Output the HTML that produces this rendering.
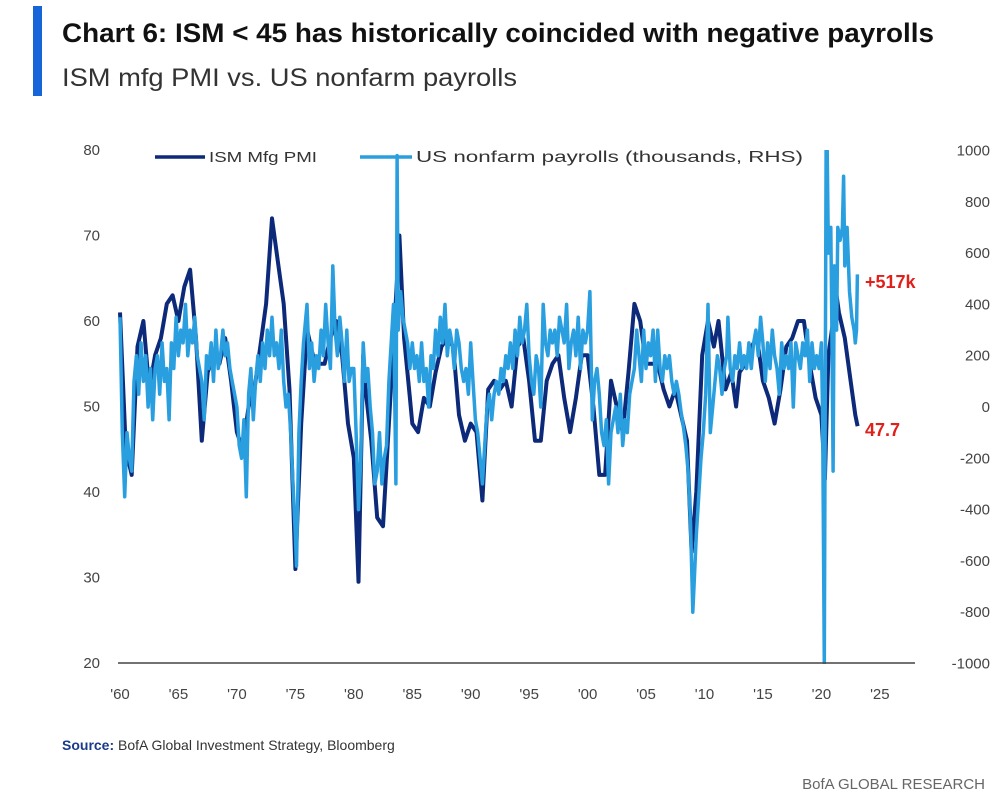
<!DOCTYPE html>
<html><head><meta charset="utf-8"><style>
body{margin:0;background:#fff;}
svg{display:block;font-family:"Liberation Sans",sans-serif;}
</style></head><body>
<svg id="chart" width="1006" height="808" viewBox="0 0 1006 808">
<rect x="33" y="6" width="9" height="90" fill="#1565d8"/>
<text x="62" y="42" font-size="27" font-weight="bold" fill="#111" textLength="872" lengthAdjust="spacingAndGlyphs">Chart 6: ISM &lt; 45 has historically coincided with negative payrolls</text>
<text x="62" y="86" font-size="25" fill="#333" textLength="455" lengthAdjust="spacingAndGlyphs">ISM mfg PMI vs. US nonfarm payrolls</text>
<g id="axes"></g>
<defs><clipPath id="plot"><rect x="110" y="150" width="800" height="514"/></clipPath></defs>
<g id="series" clip-path="url(#plot)"></g>
<line x1="118" y1="663" x2="915" y2="663" stroke="#444" stroke-width="1.5"/>
<g>
<line x1="155" y1="157" x2="205" y2="157" stroke="#0d2a7a" stroke-width="3.5"/>
<text x="209" y="162" font-size="15" fill="#333" textLength="108" lengthAdjust="spacingAndGlyphs">ISM Mfg PMI</text>
<line x1="360" y1="157" x2="412" y2="157" stroke="#2a9fe0" stroke-width="3.5"/>
<text x="416" y="162" font-size="16" fill="#333" textLength="387" lengthAdjust="spacingAndGlyphs">US nonfarm payrolls (thousands, RHS)</text>
</g>
<text x="865" y="288" font-size="18" font-weight="bold" fill="#e0201b">+517k</text>
<text x="865" y="436" font-size="18" font-weight="bold" fill="#e0201b">47.7</text>
<text x="62" y="750" font-size="14" fill="#333"><tspan font-weight="bold" fill="#1a3a8a">Source:</tspan> BofA Global Investment Strategy, Bloomberg</text>
<text x="985" y="789" font-size="15" fill="#666" text-anchor="end">BofA GLOBAL RESEARCH</text>
</svg>
<script>
const leftTicks=[80,70,60,50,40,30,20];
const rightTicks=[1000,800,600,400,200,0,-200,-400,-600,-800,-1000];
const xTickYears=[1960,1965,1970,1975,1980,1985,1990,1995,2000,2005,2010,2015,2020,2025];
const xTickLabels=["'60","'65","'70","'75","'80","'85","'90","'95","'00","'05","'10","'15","'20","'25"];
const ismYears=[1960,1960.5,1961,1961.5,1962,1962.5,1963,1963.5,1964,1964.5,1965,1965.5,1966,1966.5,1967,1967.5,1968,1968.5,1969,1969.5,1970,1970.5,1971,1971.5,1972,1972.5,1973,1973.5,1974,1974.5,1975,1975.5,1976,1976.5,1977,1977.5,1978,1978.5,1979,1979.5,1980,1980.4,1980.8,1981,1981.5,1982,1982.5,1983,1983.5,1983.9,1984.3,1984.8,1985,1985.5,1986,1986.5,1987,1987.5,1988,1988.5,1989,1989.5,1990,1990.5,1991,1991.5,1992,1992.5,1993,1993.5,1994,1994.5,1995,1995.5,1996,1996.5,1997,1997.5,1998,1998.5,1999,1999.5,2000,2000.5,2001,2001.5,2002,2002.5,2003,2003.5,2004,2004.5,2005,2005.5,2006,2006.5,2007,2007.5,2008,2008.5,2008.9,2009.3,2009.8,2010.3,2010.8,2011.2,2011.8,2012.3,2012.7,2013,2013.5,2014,2014.5,2015,2015.5,2016,2016.5,2017,2017.5,2018,2018.5,2019,2019.5,2020,2020.3,2020.6,2021,2021.2,2021.5,2022,2022.5,2022.9,2023.1];
const ismValues=[61,45,42,57,60,52,56,58,62,63,60,64,66,58,46,54,56,55,58,53,47,45,50,52,57,62,72,67,62,52,31,48,59,56,55,55,58,60,56,48,44,29.5,56,52,46,37,36,48,60,70,58,51,48,47,51,50,54,57,58,57,49,46,48,47,39,52,53,52,53,50,57,58,53,46,46,53,55,56,51,47,51,56,56,50,42,42,53,50,47,54,62,60,55,55,55,52,50,52,49,46,33,40,56,60,57,60,52,54,50,54,55,57,58,53,51,48,52,57,58,60,60,55,51,49,41.5,56,60,64,61,58,53,49,47.7];
const nfpYears=[1960.0,1960.2,1960.4,1960.6,1960.8,1961.0,1961.2,1961.4,1961.6,1961.8,1962.0,1962.2,1962.4,1962.6,1962.8,1963.0,1963.2,1963.4,1963.6,1963.8,1964.0,1964.2,1964.4,1964.6,1964.8,1965.0,1965.2,1965.4,1965.6,1965.8,1966.0,1966.2,1966.4,1966.6,1966.8,1967.0,1967.2,1967.4,1967.6,1967.8,1968.0,1968.2,1968.4,1968.6,1968.8,1969.0,1969.2,1969.4,1969.6,1969.8,1970.0,1970.2,1970.4,1970.6,1970.8,1971.0,1971.2,1971.4,1971.6,1971.8,1972.0,1972.2,1972.4,1972.6,1972.8,1973.0,1973.2,1973.4,1973.6,1973.8,1974.0,1974.2,1974.4,1974.6,1974.8,1975.0,1975.1,1975.3,1975.5,1975.7,1976.0,1976.2,1976.4,1976.6,1976.8,1977.0,1977.2,1977.4,1977.6,1977.8,1978.0,1978.2,1978.4,1978.6,1978.8,1979.0,1979.2,1979.4,1979.6,1979.8,1980.0,1980.2,1980.4,1980.6,1980.8,1981.0,1981.2,1981.4,1981.6,1981.8,1982.0,1982.2,1982.4,1982.6,1982.8,1983.0,1983.2,1983.4,1983.6,1983.7,1983.8,1984.0,1984.2,1984.4,1984.6,1984.8,1985.0,1985.2,1985.4,1985.6,1985.8,1986.0,1986.2,1986.4,1986.6,1986.8,1987.0,1987.2,1987.4,1987.6,1987.8,1988.0,1988.2,1988.4,1988.6,1988.8,1989.0,1989.2,1989.4,1989.6,1989.8,1990.0,1990.2,1990.4,1990.6,1990.8,1991.0,1991.2,1991.4,1991.6,1991.8,1992.0,1992.2,1992.4,1992.6,1992.8,1993.0,1993.2,1993.4,1993.6,1993.8,1994.0,1994.2,1994.4,1994.6,1994.8,1995.0,1995.2,1995.4,1995.6,1995.8,1996.0,1996.2,1996.4,1996.6,1996.8,1997.0,1997.2,1997.4,1997.6,1997.8,1998.0,1998.2,1998.4,1998.6,1998.8,1999.0,1999.2,1999.4,1999.6,1999.8,2000.0,2000.2,2000.4,2000.6,2000.8,2001.0,2001.2,2001.4,2001.6,2001.8,2002.0,2002.2,2002.4,2002.6,2002.8,2003.0,2003.2,2003.4,2003.6,2003.8,2004.0,2004.2,2004.4,2004.6,2004.8,2005.0,2005.2,2005.4,2005.6,2005.8,2006.0,2006.2,2006.4,2006.6,2006.8,2007.0,2007.2,2007.4,2007.6,2007.8,2008.0,2008.2,2008.4,2008.6,2008.8,2009.0,2009.1,2009.3,2009.5,2009.7,2009.9,2010.1,2010.3,2010.5,2010.7,2010.9,2011.1,2011.3,2011.5,2011.7,2011.9,2012.0,2012.2,2012.4,2012.6,2012.8,2013.0,2013.2,2013.4,2013.6,2013.8,2014.0,2014.2,2014.4,2014.6,2014.8,2015.0,2015.2,2015.4,2015.6,2015.8,2016.0,2016.2,2016.4,2016.6,2016.8,2017.0,2017.2,2017.4,2017.6,2017.8,2018.0,2018.2,2018.4,2018.6,2018.8,2019.0,2019.2,2019.4,2019.6,2019.8,2020.0,2020.1,2020.25,2020.4,2020.5,2020.6,2020.8,2020.9,2021.0,2021.1,2021.3,2021.4,2021.6,2021.8,2021.9,2022.0,2022.2,2022.4,2022.6,2022.8,2022.9,2023.0,2023.08];
const nfpValues=[350,-100,-350,-100,-200,-250,100,200,50,250,100,200,0,150,-50,150,200,50,250,100,150,-50,250,150,350,200,300,250,400,200,300,250,350,200,150,100,-50,200,150,250,100,300,150,200,300,200,250,150,100,50,0,-150,-200,-50,-350,50,150,-50,100,200,100,250,150,300,200,350,200,250,150,300,100,0,50,-100,-300,-500,-620,-100,100,250,400,150,250,100,200,150,300,200,400,250,150,550,300,200,350,250,100,300,100,150,150,-100,-400,-200,250,100,150,0,-100,-300,-250,-100,-300,-200,-150,100,250,400,-300,980,300,450,350,300,250,150,250,150,200,100,250,100,150,0,200,150,300,200,350,250,400,200,300,250,150,300,250,150,100,150,50,250,100,-50,-100,-200,-300,-150,0,50,-50,50,100,50,150,100,200,150,250,150,300,200,350,250,300,400,200,100,50,200,150,0,400,250,200,300,250,300,200,350,300,250,400,150,250,300,200,350,150,300,250,300,450,-50,100,150,50,-100,-150,-50,-300,-100,-50,0,-100,50,-150,-50,-100,50,100,150,300,200,100,300,150,250,200,300,100,300,150,100,200,150,200,100,50,100,50,-20,-80,-150,-250,-450,-800,-700,-500,-350,-200,-100,50,400,-100,0,100,200,150,50,150,200,350,150,100,200,150,250,150,200,150,250,150,250,300,200,350,250,100,250,150,300,200,150,50,250,150,200,150,250,0,250,200,150,250,200,300,100,250,150,200,150,250,-30,-1000,1000,1000,600,700,300,-250,550,300,700,650,700,900,550,700,450,350,300,250,300,517];

const xs=y=>120+(y-1960)*11.69;
const yl=v=>663-(v-20)*8.55;
const yr=v=>407-v*0.2565;
const NS='http://www.w3.org/2000/svg';
const axes=document.getElementById('axes');
const series=document.getElementById('series');
function txt(parent,x,y,s,anchor){const t=document.createElementNS(NS,'text');t.setAttribute('x',x);t.setAttribute('y',y);t.setAttribute('font-size','15');t.setAttribute('fill','#444');t.setAttribute('text-anchor',anchor);t.textContent=s;parent.appendChild(t);return t;}
leftTicks.forEach(v=>{const t=txt(axes,100,yl(v)+5,String(v),'end');

});
rightTicks.forEach(v=>{const t=txt(axes,990,yr(v)+5,String(v),'end');

});
xTickYears.forEach((yv,i)=>{const t=txt(axes,xs(yv),699,xTickLabels[i],'middle');

});
function line(xa,ya,sc,color,w,name){const p=document.createElementNS(NS,'path');
p.setAttribute('d',xa.map((x,i)=>(i?'L':'M')+xs(x).toFixed(1)+','+sc(ya[i]).toFixed(1)).join(''));
p.setAttribute('fill','none');p.setAttribute('stroke',color);p.setAttribute('stroke-width',w);p.setAttribute('stroke-linejoin','round');


series.appendChild(p);}
line(ismYears,ismValues,yl,'#0d2a7a',4,'ism-pmi-line');
line(nfpYears,nfpValues,yr,'#2a9fe0',3.5,'payrolls-line');
</script>
</body></html>
